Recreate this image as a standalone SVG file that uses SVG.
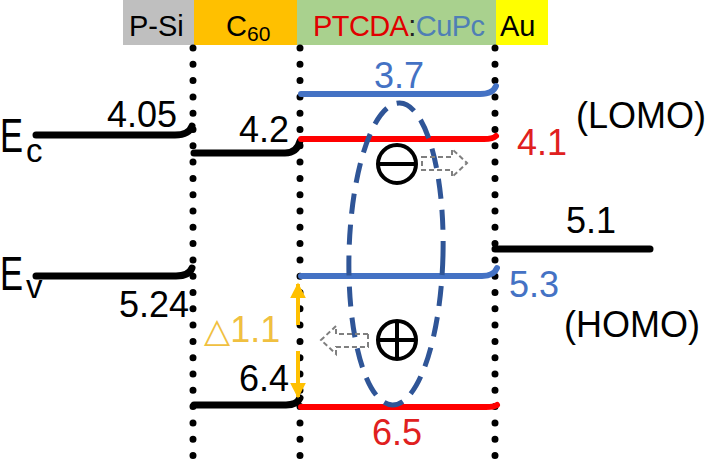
<svg xmlns="http://www.w3.org/2000/svg" width="708" height="470" viewBox="0 0 708 470">
<style>
.t{font-family:"Liberation Sans",Arial,sans-serif;font-size:36px}
.h{font-family:"Liberation Sans",Arial,sans-serif;font-size:29px}
.e{font-family:"Liberation Sans",Arial,sans-serif;font-size:48px}
.s{font-family:"Liberation Sans",Arial,sans-serif;font-size:33px}
.dot{stroke:#000;stroke-width:7;stroke-linecap:round;stroke-dasharray:0 16.3;fill:none}
.lk{stroke:#000;stroke-width:7;fill:none;stroke-linecap:round}
.lb{stroke:#4472C4;stroke-width:6;fill:none;stroke-linecap:round}
.lr{stroke:#FF0000;stroke-width:6;fill:none;stroke-linecap:round}
.da{fill:none;stroke:#7f7f7f;stroke-width:2;stroke-dasharray:5 3}
</style>
<defs>
<marker id="ah" viewBox="0 0 10 10" refX="9" refY="5" markerWidth="4" markerHeight="4" orient="auto"><path d="M0,0 L10,5 L0,10 z" fill="#FFC000"/></marker>
</defs>
<rect width="708" height="470" fill="#fff"/>
<g id="header">
<rect x="123" y="0" width="71" height="45" fill="#BFBFBF"/>
<rect x="194" y="0" width="103" height="45" fill="#FFC000"/>
<rect x="297" y="0" width="199" height="45" fill="#A9D18E"/>
<rect x="496" y="0" width="52" height="45" fill="#FFFF00"/>
<text class="h" x="129" y="36">P-Si</text>
<text class="h" x="226" y="36">C<tspan font-size="21" dy="5">60</tspan></text>
<text class="h" x="313" y="36" textLength="172"><tspan fill="#E00000">PTCDA</tspan><tspan fill="#222">:</tspan><tspan fill="#4F7FB5">CuPc</tspan></text>
<text class="h" x="500" y="36" font-size="31">Au</text>
</g>
<g id="boundaries">
<line class="dot" x1="193" y1="48" x2="193" y2="470"/>
<line class="dot" x1="300" y1="48" x2="300" y2="470"/>
<line class="dot" x1="495" y1="48" x2="495" y2="470"/>
</g>
<g id="levels">
<path class="lk" d="M36,135 H175 Q189,135 192,126"/>
<path class="lk" d="M194,153 H285 Q297,153 300,141"/>
<path class="lk" d="M36,276 H176 Q189,276 192,268"/>
<path class="lk" d="M194,405 H286 Q297,405 300,398"/>
<path class="lk" d="M495,249 H650"/>
<path class="lb" d="M301,94 H480 Q493,94 496,86"/>
<path class="lr" d="M301,139 H484 Q493,139 496,136"/>
<path class="lb" d="M301,276 H482 Q494,276 497,268"/>
<path class="lr" d="M301,407 H486 Q494,407 497,405"/>
</g>
<g id="labels">
<text class="e" transform="translate(0,152) scale(0.72,1)">E</text>
<text class="s" x="26" y="162">c</text>
<text class="e" transform="translate(0,290) scale(0.72,1)">E</text>
<text class="s" x="26" y="298">v</text>
<text class="t" x="107" y="127">4.05</text>
<text class="t" x="239" y="142">4.2</text>
<text class="t" x="119" y="317">5.24</text>
<text class="t" x="239" y="391">6.4</text>
<text class="t" x="374" y="88" fill="#4472C4">3.7</text>
<text class="t" x="517" y="155" fill="#E02020">4.1</text>
<text class="t" x="566" y="233">5.1</text>
<text class="t" x="509" y="297" fill="#4472C4">5.3</text>
<text class="t" x="372" y="445" fill="#E02020">6.5</text>
<text class="t" x="576" y="128" font-size="34">(LOMO)</text>
<text class="t" x="564" y="337" font-size="34">(HOMO)</text>
<text class="t" x="204" y="342" fill="#F0C040"><tspan font-family="DejaVu Sans,sans-serif" font-size="34">△</tspan>1.1</text>
</g>
<g id="exciton">
<ellipse cx="396" cy="254" rx="47" ry="151" transform="rotate(1.4 396 254)" fill="none" stroke="#2F5597" stroke-width="5" stroke-dasharray="20 11"/>
<circle cx="397" cy="164" r="19" fill="none" stroke="#000" stroke-width="4"/>
<line x1="378" y1="164" x2="416" y2="164" stroke="#000" stroke-width="4"/>
<circle cx="397" cy="340" r="19" fill="none" stroke="#000" stroke-width="4"/>
<line x1="378" y1="340" x2="416" y2="340" stroke="#000" stroke-width="4"/>
<line x1="397" y1="321" x2="397" y2="359" stroke="#000" stroke-width="4"/>
<path class="da" d="M422,157 H452 V149 L467,163 L452,177 V170 H422 Z"/>
<path class="da" d="M368,334 H336 V326 L321,340 L336,354 V347 H368 Z"/>
</g>
<g id="connectors">
<line x1="298" y1="325" x2="298" y2="284" stroke="#FFC000" stroke-width="4" marker-end="url(#ah)"/>
<line x1="298" y1="351" x2="298" y2="397" stroke="#FFC000" stroke-width="4" marker-end="url(#ah)"/>
</g>
</svg>
